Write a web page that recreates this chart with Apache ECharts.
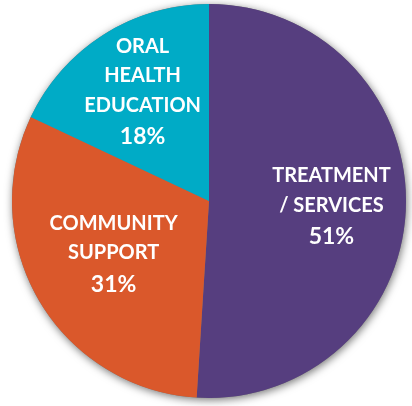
<!DOCTYPE html>
<html>
<head>
<meta charset="utf-8">
<script src="https://cdn.jsdelivr.net/npm/echarts@6/dist/echarts.min.js"></script>
<style>
html,body{margin:0;padding:0;background:#fff;}
#c{width:412px;height:406px;}
</style>
</head>
<body>
<div id="c"></div>
<script>
const categories = ['TREATMENT\n/ SERVICES', 'COMMUNITY\nSUPPORT', 'ORAL\nHEALTH\nEDUCATION'];
const values = [51, 31, 18];
const colors = ['#563E7F', '#DA582B', '#00ABC6'];
const labelOffsets = [[21, 3], [-8, 2], [-12, -23]];

const chart = echarts.init(document.getElementById('c'), null, {renderer: 'canvas'});
const data = categories.map((name, i) => ({
  name: name,
  value: values[i],
  itemStyle: {color: colors[i]},
  label: {offset: labelOffsets[i]}
}));

chart.setOption({
  animation: false,
  series: [
    {
      type: 'pie',
      silent: true,
      center: [209, 201],
      radius: 197,
      startAngle: 90,
      data: [{value: 1, itemStyle: {color: '#777', shadowBlur: 8, shadowColor: 'rgba(0,0,0,0.55)', shadowOffsetX: 1, shadowOffsetY: 2}}],
      label: {show: false},
      labelLine: {show: false},
      z: 1
    },
    {
      type: 'pie',
      center: [209, 201],
      radius: 197,
      startAngle: 90,
      clockwise: true,
      data: data,
      itemStyle: {borderWidth: 0},
      labelLine: {show: false},
      emphasis: {disabled: true},
      label: {
        show: true,
        position: 'inside',
        color: '#fff',
        fontFamily: 'Lato',
        formatter: function (p) {
          const lines = p.name.split('\n').map(l => '{n|' + l + '}');
          return lines.join('\n') + '\n{p|' + p.value + '%}';
        },
        rich: {
          n: {fontFamily: 'Lato', fontWeight: 'bold', fontSize: 20, lineHeight: 29.5, color: '#fff'},
          p: {fontFamily: 'Lato', fontWeight: 'bold', fontSize: 23, lineHeight: 33, color: '#fff'}
        }
      },
      z: 2
    }
  ]
});
</script>
</body>
</html>
